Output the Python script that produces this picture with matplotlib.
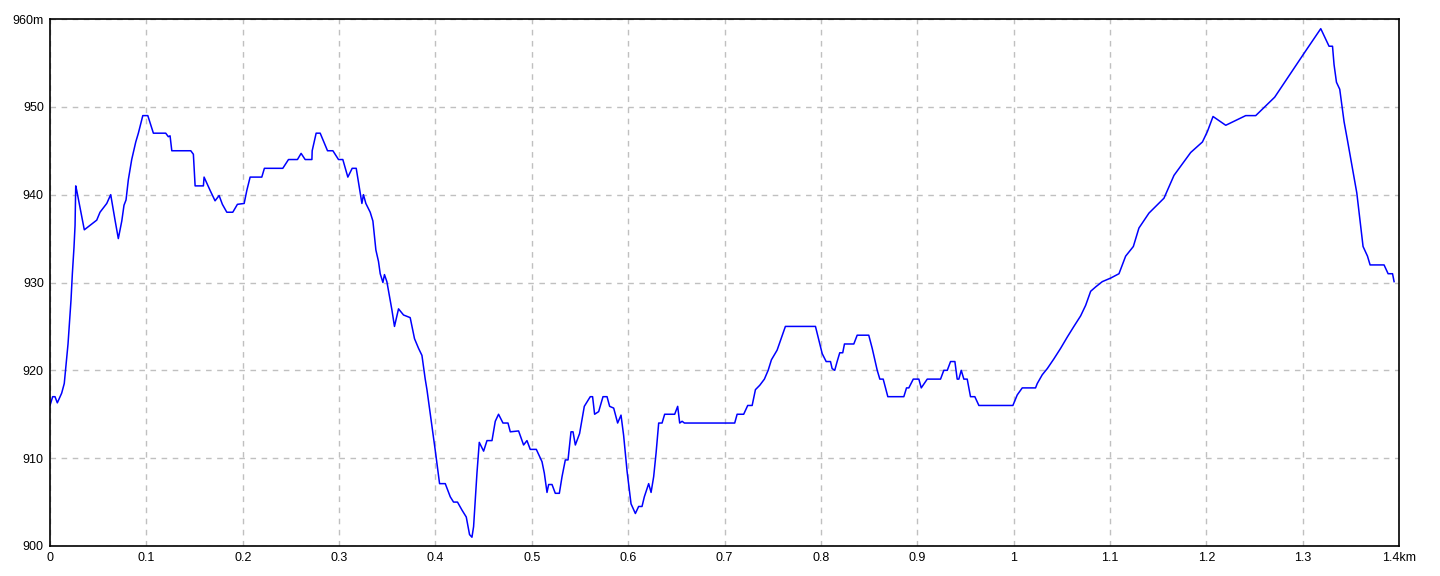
import numpy as np
import matplotlib
matplotlib.use('Agg')
import matplotlib.pyplot as plt

# distance along the track [km]
dist_km = [
    0.0, 0.0028, 0.0052, 0.0076, 0.0121, 0.0148, 0.0187, 0.0218, 0.0232, 0.0249,
    0.0260, 0.0267, 0.0277, 0.0356, 0.0485, 0.0519, 0.0589, 0.0630, 0.0675, 0.0709,
    0.0745, 0.0768, 0.0789, 0.0813, 0.0848, 0.0890, 0.0917, 0.0963, 0.1015, 0.1073,
    0.1201, 0.1228, 0.1246, 0.1264, 0.1461, 0.1488, 0.1506, 0.1592, 0.1599, 0.1661,
    0.1713, 0.1755, 0.1789, 0.1835, 0.1897, 0.1945, 0.2015, 0.2043, 0.2077, 0.2198,
    0.2225, 0.2416, 0.2475, 0.2568, 0.2606, 0.2648, 0.2718, 0.2721, 0.2762, 0.2804,
    0.2880, 0.2936, 0.2994, 0.3039, 0.3091, 0.3136, 0.3178, 0.3237, 0.3253, 0.3278,
    0.3323, 0.3351, 0.3382, 0.3409, 0.3427, 0.3455, 0.3471, 0.3496, 0.3548, 0.3575,
    0.3617, 0.3669, 0.3738, 0.3783, 0.3825, 0.3860, 0.3894, 0.3912, 0.3964, 0.3998,
    0.4043, 0.4102, 0.4154, 0.4188, 0.4229, 0.4275, 0.4320, 0.4354, 0.4379, 0.4396,
    0.4431, 0.4455, 0.4500, 0.4535, 0.4587, 0.4621, 0.4655, 0.4701, 0.4753, 0.4777,
    0.4863, 0.4915, 0.4950, 0.4984, 0.5047, 0.5106, 0.5130, 0.5158, 0.5175, 0.5210,
    0.5244, 0.5286, 0.5314, 0.5348, 0.5376, 0.5407, 0.5428, 0.5452, 0.5496, 0.5545,
    0.5607, 0.5631, 0.5652, 0.5694, 0.5739, 0.5781, 0.5808, 0.5850, 0.5891, 0.5926,
    0.5953, 0.5989, 0.6030, 0.6075, 0.6109, 0.6144, 0.6168, 0.6213, 0.6238, 0.6265,
    0.6290, 0.6317, 0.6352, 0.6379, 0.6483, 0.6514, 0.6535, 0.6560, 0.6584, 0.7106,
    0.7131, 0.7199, 0.7241, 0.7287, 0.7321, 0.7366, 0.7414, 0.7453, 0.7487, 0.7546,
    0.7632, 0.7944, 0.7978, 0.8014, 0.8055, 0.8100, 0.8117, 0.8144, 0.8169, 0.8196,
    0.8227, 0.8245, 0.8342, 0.8377, 0.8497, 0.8533, 0.8585, 0.8612, 0.8647, 0.8695,
    0.8861, 0.8889, 0.8913, 0.8959, 0.9017, 0.9042, 0.9104, 0.9242, 0.9276, 0.9312,
    0.9346, 0.9391, 0.9415, 0.9432, 0.9457, 0.9484, 0.9519, 0.9553, 0.9598, 0.9640,
    0.9993, 1.0038, 1.0090, 1.0228, 1.0246, 1.0298, 1.0350, 1.0418, 1.0488, 1.0558,
    1.0626, 1.0696, 1.0748, 1.0800, 1.0852, 1.0921, 1.1007, 1.1094, 1.1163, 1.1243,
    1.1301, 1.1405, 1.1561, 1.1665, 1.1838, 1.1960, 1.2012, 1.2070, 1.2202, 1.2409,
    1.2513, 1.2710, 1.3015, 1.3188, 1.3274, 1.3310, 1.3326, 1.3351, 1.3385, 1.3430,
    1.3465, 1.3507, 1.3562, 1.3603, 1.3627, 1.3673, 1.3700, 1.3845, 1.3887, 1.3933,
    1.3949,
]

# elevation [m]
elev_m = [
    916, 917, 917, 916.3, 917.4, 918.5, 923, 928, 931, 934,
    936.5, 941, 940.5, 936, 937.1, 938, 939, 940, 937.1, 935,
    937, 938.8, 939.4, 941.7, 944, 946, 947, 949, 949, 947,
    947, 946.6, 946.7, 945, 945, 944.6, 941, 941, 942, 940.5,
    939.3, 939.9, 938.9, 938, 938, 938.9, 939, 940.5, 942, 942,
    943, 943, 944, 944, 944.7, 944, 944, 945, 947, 947,
    945, 945, 944, 944, 942, 943, 943, 939, 940, 939,
    938, 937, 933.7, 932.4, 931, 930, 930.9, 930.1, 926.9, 925,
    927, 926.3, 926, 923.6, 922.5, 921.7, 919, 917.8, 913.6, 910.9,
    907.1, 907.1, 905.6, 905, 905, 904.1, 903.3, 901.3, 901, 902.2,
    908.3, 911.8, 910.8, 912, 912, 914.2, 915, 914, 914, 913,
    913.1, 911.5, 912, 911, 911, 909.6, 908.3, 906.1, 907, 907,
    906, 906, 907.9, 909.8, 909.8, 913, 913, 911.5, 912.8, 915.9,
    917, 917, 915, 915.3, 917, 917, 915.9, 915.7, 914, 914.9,
    912.6, 908.5, 904.8, 903.7, 904.5, 904.5, 905.6, 907.1, 906.1, 907.9,
    910.6, 914, 914, 915, 915, 915.9, 914, 914.2, 914, 914,
    915, 915, 916, 916, 917.8, 918.3, 919, 920, 921.2, 922.3,
    925, 925, 923.5, 921.9, 921, 921, 920.2, 920, 921, 922,
    922, 923, 923, 924, 924, 922.5, 920, 919, 919, 917,
    917, 918, 918, 919, 919, 918, 919, 919, 920, 920,
    921, 921, 919, 919, 920, 919, 919, 917, 917, 916,
    916, 917.2, 918, 918, 918.5, 919.5, 920.2, 921.3, 922.5, 923.8,
    925, 926.2, 927.4, 929, 929.5, 930.1, 930.5, 931, 933, 934.1,
    936.2, 937.9, 939.6, 942.2, 944.8, 946, 947.2, 948.9, 947.9, 949,
    949, 951.1, 956.1, 958.9, 956.9, 956.9, 954.8, 952.8, 952, 948.3,
    946.2, 943.6, 940.2, 936.4, 934.1, 933, 932, 932, 931, 931,
    930.1,
]

x_ticks = [0, 0.1, 0.2, 0.3, 0.4, 0.5, 0.6, 0.7, 0.8, 0.9, 1.0, 1.1, 1.2, 1.3, 1.4]
x_labels = ['0', '0.1', '0.2', '0.3', '0.4', '0.5', '0.6', '0.7', '0.8', '0.9',
            '1', '1.1', '1.2', '1.3', '1.4km']
y_ticks = [900, 910, 920, 930, 940, 950, 960]
y_labels = ['900', '910', '920', '930', '940', '950', '960m']

plt.rcParams['font.family'] = ['Liberation Sans Narrow', 'Liberation Sans', 'DejaVu Sans']

fig = plt.figure(figsize=(14.4, 5.76), dpi=100)
ax = fig.add_axes([50/1440, 30/576, 1349/1440, 527/576])

ax.plot(dist_km, elev_m, color='#0000ff', lw=1.1)

ax.set_xlim(0, 1.4)
ax.set_ylim(900, 960)
ax.set_xticks(x_ticks)
ax.set_xticklabels(x_labels)
ax.set_yticks(y_ticks)
ax.set_yticklabels(y_labels)
ax.tick_params(axis='both', length=0, labelsize=9, pad=4.5)
ax.grid(True, color='#c0c0c0', linestyle=(0, (4, 4)), lw=1)
ax.set_axisbelow(True)
for s in ax.spines.values():
    s.set_color('black')
    s.set_linewidth(1.2)

fig.savefig('out.png', dpi=100)
